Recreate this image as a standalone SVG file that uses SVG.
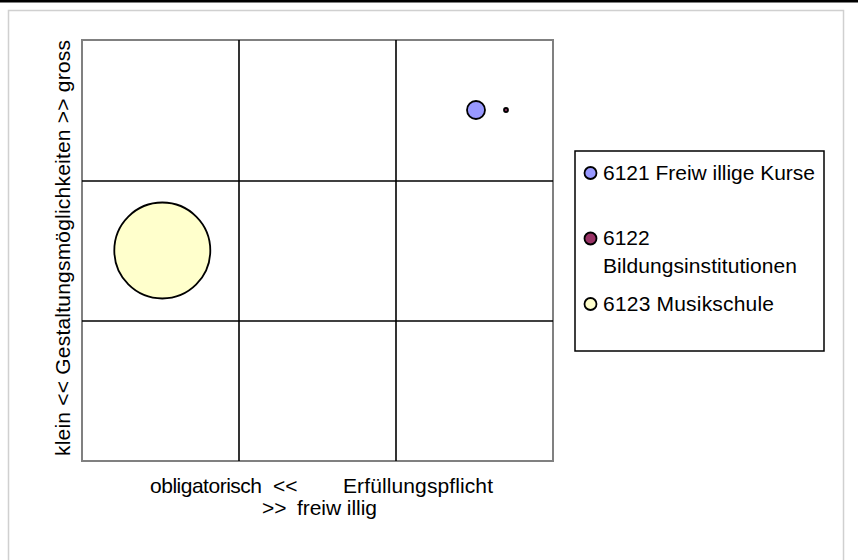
<svg xmlns="http://www.w3.org/2000/svg" width="866" height="560" viewBox="0 0 866 560">
<style>
text{font-family:"Liberation Sans",Arial,sans-serif;font-size:21px;fill:#000}
.grid{stroke:#000;stroke-width:1.6;fill:none}
.pt{stroke:#000;stroke-width:1.8}
.blue{fill:#9999FF}
.maroon{fill:#993366}
.yellow{fill:#FFFFCC}
</style>
<rect x="0" y="0" width="866" height="560" fill="#fff"/>
<rect x="0" y="0" width="858" height="2.5" fill="#000"/>
<rect x="8.5" y="10.5" width="835" height="560" fill="none" stroke="#d0d0d0" stroke-width="1.5"/>
<g id="plot">
<rect x="82" y="40" width="471" height="421" fill="#fff" stroke="#808080" stroke-width="2"/>
<line class="grid" x1="239" y1="40" x2="239" y2="461"/>
<line class="grid" x1="396" y1="40" x2="396" y2="461"/>
<line class="grid" x1="82" y1="181" x2="553" y2="181"/>
<line class="grid" x1="82" y1="321" x2="553" y2="321"/>
</g>
<g id="p6121"><circle class="pt blue" cx="476" cy="110" r="9"/></g>
<g id="p6122"><circle class="pt maroon" cx="506" cy="110" r="2"/></g>
<g id="p6123"><circle class="pt yellow" cx="162.3" cy="250.5" r="48"/></g>
<g id="legend">
<rect x="575" y="151" width="249" height="200" fill="#fff" stroke="#000" stroke-width="1.5"/>
<circle class="pt blue" cx="590.5" cy="173" r="6"/>
<text x="603" y="179.5" textLength="212" lengthAdjust="spacing">6121 Freiw illige Kurse</text>
<circle class="pt maroon" cx="590.5" cy="238.5" r="6"/>
<text x="603" y="245">6122</text>
<text x="603" y="273" textLength="194" lengthAdjust="spacing">Bildungsinstitutionen</text>
<circle class="pt yellow" cx="590.5" cy="304" r="6"/>
<text x="603" y="311" textLength="171" lengthAdjust="spacing">6123 Musikschule</text>
</g>
<g id="xaxis">
<text y="493"><tspan x="150" textLength="112" lengthAdjust="spacing">obligatorisch</tspan><tspan x="273">&lt;&lt;</tspan><tspan x="343" textLength="150" lengthAdjust="spacing">Erfüllungspflicht</tspan></text>
<text y="515"><tspan x="262">&gt;&gt;</tspan><tspan x="297" textLength="80" lengthAdjust="spacing">freiw illig</tspan></text>
</g>
<g id="yaxis">
<text transform="translate(70,248) rotate(-90)" text-anchor="middle" textLength="416" lengthAdjust="spacing" x="0" y="0">klein &lt;&lt; Gestaltungsmöglichkeiten &gt;&gt; gross</text>
</g>
</svg>
